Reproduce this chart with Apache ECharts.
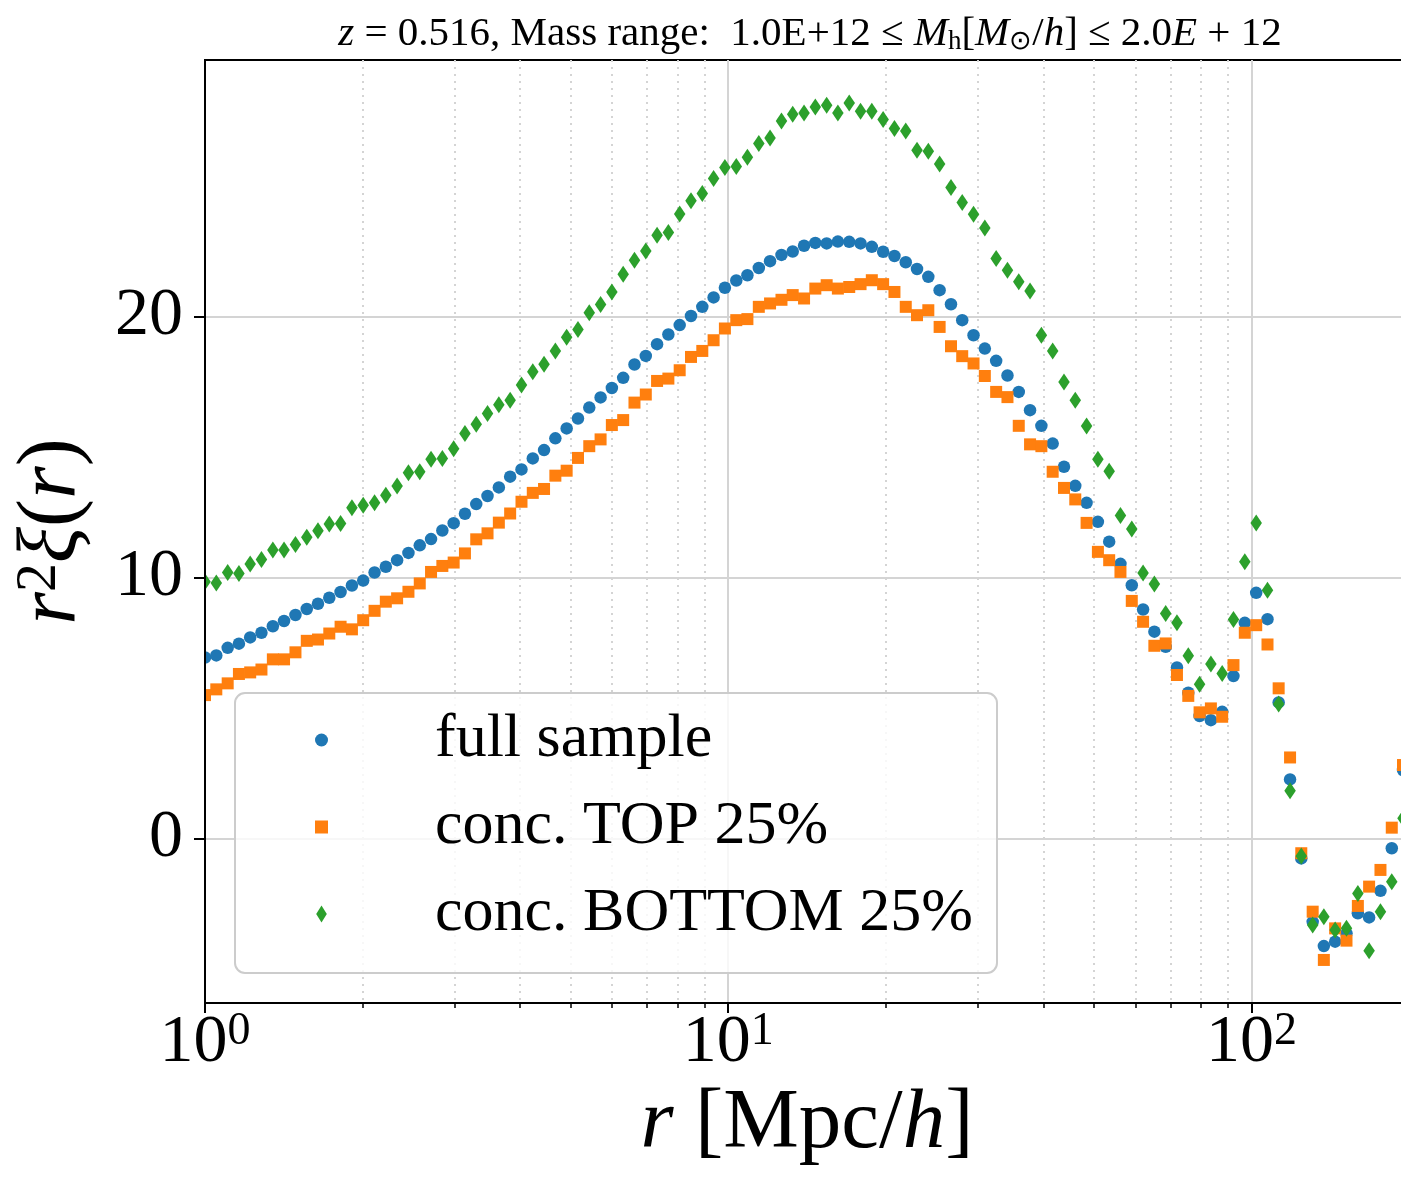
<!DOCTYPE html>
<html>
<head>
<meta charset="utf-8">
<script src="https://cdn.jsdelivr.net/npm/echarts@6/dist/echarts.min.js"></script>
<style>
  html, body { margin: 0; padding: 0; background: #fff; }
  #chart { width: 1401px; height: 1177px; }
</style>
</head>
<body>
<div id="chart"></div>
<script>
// bin centres r [Mpc/h]
const r = [
  1.000, 1.051, 1.105, 1.161, 1.220, 1.282, 1.348, 1.416, 1.489, 1.565,
  1.644, 1.728, 1.816, 1.909, 2.006, 2.109, 2.216, 2.329, 2.448, 2.573,
  2.704, 2.842, 2.987, 3.139, 3.299, 3.467, 3.644, 3.830, 4.026, 4.231,
  4.446, 4.673, 4.911, 5.162, 5.425, 5.702, 5.992, 6.298, 6.619, 6.957,
  7.311, 7.684, 8.076, 8.488, 8.921, 9.376, 9.854, 10.36, 10.88, 11.44,
  12.02, 12.64, 13.28, 13.96, 14.67, 15.42, 16.20, 17.03, 17.90, 18.81,
  19.77, 20.78, 21.84, 22.95, 24.12, 25.35, 26.65, 28.00, 29.43, 30.93,
  32.51, 34.17, 35.91, 37.74, 39.67, 41.69, 43.82, 46.05, 48.40, 50.87,
  53.46, 56.18, 59.05, 62.06, 65.22, 68.55, 72.04, 75.72, 79.58, 83.64,
  87.90, 92.38, 97.10, 102.1, 107.3, 112.7, 118.5, 124.5, 130.9, 137.5,
  144.5, 151.9, 159.7, 167.8, 176.4, 185.4, 194.8
]

// r^2 xi(r)
const fullSample = [
  6.93, 7.01, 7.30, 7.46, 7.70, 7.88, 8.13, 8.33, 8.56, 8.79,
  8.99, 9.22, 9.44, 9.69, 9.88, 10.19, 10.41, 10.66, 10.94, 11.23,
  11.47, 11.80, 12.08, 12.44, 12.81, 13.12, 13.45, 13.86, 14.14, 14.56,
  14.88, 15.33, 15.71, 16.09, 16.51, 16.90, 17.26, 17.65, 18.16, 18.49,
  18.94, 19.31, 19.67, 20.02, 20.37, 20.73, 21.10, 21.38, 21.58, 21.86,
  22.12, 22.36, 22.49, 22.71, 22.82, 22.80, 22.87, 22.86, 22.80, 22.67,
  22.48, 22.32, 22.08, 21.82, 21.52, 21.01, 20.47, 19.86, 19.28, 18.77,
  18.30, 17.74, 17.11, 16.41, 15.81, 15.13, 14.24, 13.51, 12.86, 12.13,
  11.37, 10.52, 9.70, 8.77, 7.92, 7.34, 6.55, 5.58, 4.69, 4.53,
  4.85, 6.22, 8.26, 9.41, 8.40, 5.21, 2.26, -0.77, -3.20, -4.13,
  -3.96, -3.64, -2.87, -3.03, -2.01, -0.38, 2.62
]
const concTop = [
  5.49, 5.71, 5.94, 6.30, 6.36, 6.47, 6.86, 6.86, 7.13, 7.57,
  7.62, 7.85, 8.11, 8.01, 8.36, 8.72, 9.07, 9.20, 9.45, 9.77,
  10.21, 10.44, 10.57, 10.92, 11.46, 11.69, 12.10, 12.45, 12.90, 13.24,
  13.39, 13.90, 14.09, 14.58, 15.03, 15.29, 15.84, 16.03, 16.70, 17.01,
  17.53, 17.62, 17.94, 18.45, 18.68, 19.09, 19.54, 19.86, 19.90, 20.37,
  20.50, 20.64, 20.82, 20.69, 21.07, 21.20, 21.07, 21.13, 21.24, 21.39,
  21.24, 20.94, 20.37, 20.05, 20.24, 19.60, 18.86, 18.48, 18.20, 17.72,
  17.11, 16.91, 15.81, 15.10, 15.03, 14.05, 13.43, 12.99, 12.09, 10.98,
  10.66, 10.21, 9.10, 8.30, 7.38, 7.47, 6.26, 5.46, 4.83, 4.98,
  4.66, 6.64, 7.88, 8.17, 7.43, 5.75, 3.10, -0.57, -2.81, -4.66,
  -3.45, -3.92, -2.59, -1.85, -1.21, 0.41, 2.81
]
const concBottom = [
  9.83, 9.79, 10.19, 10.15, 10.51, 10.69, 11.05, 11.05, 11.26, 11.54,
  11.79, 12.05, 12.07, 12.67, 12.77, 12.86, 13.15, 13.50, 14.01, 14.05,
  14.53, 14.56, 14.93, 15.52, 15.87, 16.28, 16.62, 16.79, 17.37, 17.88,
  18.17, 18.68, 19.20, 19.50, 20.14, 20.46, 20.94, 21.62, 22.16, 22.51,
  23.11, 23.22, 23.93, 24.44, 24.71, 25.29, 25.71, 25.75, 26.10, 26.63,
  26.84, 27.49, 27.75, 27.80, 28.03, 28.10, 27.80, 28.18, 27.87, 27.87,
  27.55, 27.20, 27.11, 26.37, 26.33, 25.84, 24.94, 24.37, 23.92, 23.39,
  22.22, 21.77, 21.33, 20.98, 19.28, 18.68, 17.49, 16.79, 15.80, 14.53,
  14.07, 12.37, 11.86, 10.17, 9.75, 8.62, 8.26, 7.00, 5.91, 6.68,
  6.32, 8.39, 10.60, 12.09, 9.51, 5.15, 1.82, -0.68, -3.32, -3.00,
  -3.51, -3.45, -2.11, -4.31, -2.81, -1.66, 0.77
]

const xMajorTicks = [1, 10, 100]
const xMinorTicks = [2, 3, 4, 5, 6, 7, 8, 9, 20, 30, 40, 50, 60, 70, 80, 90, 200]
const yTicks = [0, 10, 20]

const FONT = "'Liberation Serif', 'Times New Roman', serif"
const GRID_GREY = '#d4d4d4'
const pairs = (ys) => r.map((x, i) => [x, ys[i]])

const chart = echarts.init(document.getElementById('chart'), null, { renderer: 'canvas' })

chart.setOption({
  animation: false,
  backgroundColor: '#fff',
  title: {
    text: '{i|z} = 0.516, Mass range:  1.0E+12 ≤ {i|M}{sub|h}[{i|M}{sub|⊙}/{i|h}] ≤ 2.0{i|E} + 12',
    left: 805,
    top: 9,
    textAlign: 'center',
    textStyle: {
      fontFamily: FONT, fontSize: 41, fontWeight: 'normal', color: '#000',
      rich: {
        i: { fontFamily: FONT, fontSize: 41, fontStyle: 'italic', color: '#000' },
        sub: { fontFamily: FONT, fontSize: 27, lineHeight: 27, verticalAlign: 'bottom', padding: [25, 0, 0, 0], color: '#000' }
      }
    }
  },
  grid: {
    left: 205,
    right: -8,
    top: 60,
    bottom: 174,
    show: true,
    borderColor: '#000',
    borderWidth: 2,
    backgroundColor: 'transparent',
    outerBoundsMode: 'none'
  },
  legend: {
    orient: 'vertical',
    left: 315,
    top: 709,
    padding: 0,
    itemGap: 25,
    itemWidth: 13,
    itemHeight: 17,
    symbolKeepAspect: true,
    z: 6,
    textStyle: { fontFamily: FONT, fontSize: 62, lineHeight: 62, color: '#000', padding: [0, 0, 0, 102] },
    data: [
      { name: 'full sample', icon: 'circle' },
      { name: 'conc. TOP 25%', icon: 'path://M0,0H10V10H0Z' },
      { name: 'conc. BOTTOM 25%', icon: 'path://M5,0L10,8L5,16L0,8Z' }
    ]
  },
  graphic: [
    {
      // legend frame
      type: 'rect',
      z: 5,
      shape: { x: 235, y: 693, width: 762, height: 280, r: 10 },
      style: { fill: 'rgba(255,255,255,0.8)', stroke: '#cccccc', lineWidth: 2 }
    },
    {
      // clip the markers that stick out left of the spine
      type: 'rect',
      z: 2.5,
      shape: { x: 188, y: 61, width: 16, height: 940 },
      style: { fill: '#fff' }
    }
  ],
  xAxis: [
    {
      type: 'log',
      logBase: 10,
      min: 1,
      max: 200,
      position: 'bottom',
      name: '{i|r} [Mpc/{i|h}]',
      nameLocation: 'middle',
      nameGap: 74,
      nameTextStyle: {
        fontFamily: FONT, fontSize: 85, color: '#000',
        rich: { i: { fontFamily: FONT, fontSize: 85, fontStyle: 'italic', color: '#000' } }
      },
      axisLine: { onZero: false, lineStyle: { color: '#000', width: 2 } },
      axisTick: { customValues: xMajorTicks, length: 10, lineStyle: { color: '#000', width: 2 } },
      axisLabel: {
        customValues: xMajorTicks,
        margin: 6,
        formatter: (v) => '{b|10}{s|' + Math.round(Math.log10(v)) + '}',
        rich: {
          b: { fontFamily: FONT, fontSize: 68, lineHeight: 68, padding: [8, 0, 0, 0], verticalAlign: 'bottom', color: '#000' },
          s: { fontFamily: FONT, fontSize: 46, lineHeight: 46, verticalAlign: 'top', color: '#000' }
        }
      },
      splitLine: { show: true, lineStyle: { color: GRID_GREY, width: 2 } }
    },
    {
      type: 'log',
      logBase: 10,
      min: 1,
      max: 200,
      position: 'bottom',
      offset: 0,
      axisLine: { show: false, onZero: false },
      axisTick: { customValues: xMinorTicks, length: 5, lineStyle: { color: '#000', width: 1.5 } },
      axisLabel: { show: false },
      splitLine: { show: true, lineStyle: { color: GRID_GREY, width: 2, type: [2, 5] } }
    }
  ],
  yAxis: {
    type: 'value',
    min: -6.31,
    max: 29.83,
    z: 3,
    name: '{i|r}{s|2}{i|ξ}({i|r})',
    nameLocation: 'middle',
    nameRotate: 90,
    nameGap: 110,
    nameTextStyle: {
      fontFamily: FONT, fontSize: 84, color: '#000',
      rich: {
        i: { fontFamily: FONT, fontSize: 84, fontStyle: 'italic', color: '#000' },
        s: { fontFamily: FONT, fontSize: 58, lineHeight: 58, verticalAlign: 'top', color: '#000' }
      }
    },
    axisLine: { show: true, onZero: false, lineStyle: { color: '#000', width: 2 } },
    axisTick: { show: true, customValues: yTicks, length: 11, lineStyle: { color: '#000', width: 2 } },
    axisLabel: { customValues: yTicks, margin: 22, fontFamily: FONT, fontSize: 68, color: '#000' },
    splitLine: { show: false }
  },
  series: [
    {
      name: 'full sample',
      type: 'scatter',
      symbol: 'circle',
      symbolSize: 12.5,
      itemStyle: { color: '#1f77b4', opacity: 1 },
      data: pairs(fullSample),
      // horizontal grid lines, kept under the markers
      markLine: {
        silent: true,
        z: 1,
        symbol: 'none',
        label: { show: false },
        lineStyle: { color: GRID_GREY, width: 2, type: 'solid' },
        data: yTicks.map((v) => ({ yAxis: v }))
      }
    },
    {
      name: 'conc. TOP 25%',
      type: 'scatter',
      symbol: 'rect',
      symbolSize: 12,
      itemStyle: { color: '#ff7f0e', opacity: 1 },
      data: pairs(concTop)
    },
    {
      name: 'conc. BOTTOM 25%',
      type: 'scatter',
      symbol: 'diamond',
      symbolSize: [11.5, 17],
      itemStyle: { color: '#2ca02c', opacity: 1 },
      data: pairs(concBottom)
    }
  ]
})

window.addEventListener('resize', () => {
  chart.resize()
})
</script>
</body>
</html>
